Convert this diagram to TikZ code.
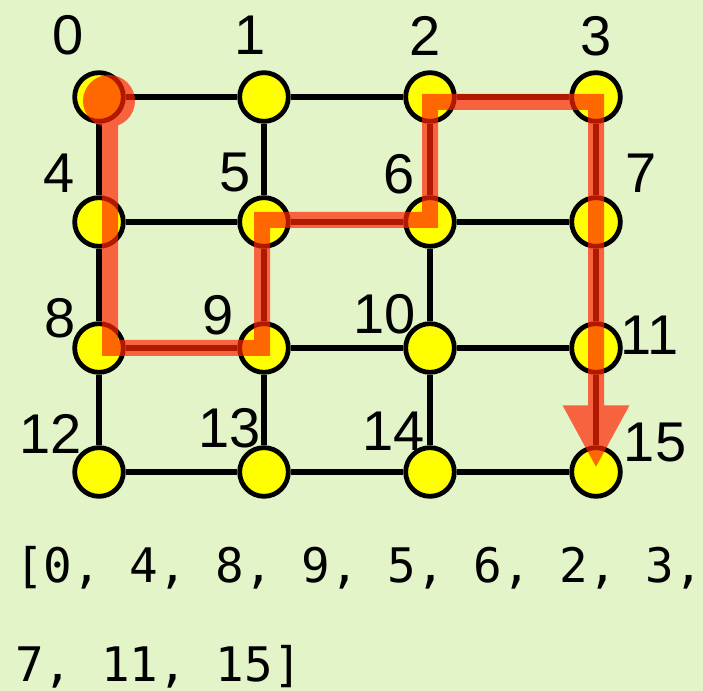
\documentclass[tikz,border=0pt]{standalone}
\usepackage{fontspec}
\setmainfont{Liberation Sans}
\newfontfamily\codefont{DejaVu Sans Mono}
\usetikzlibrary{arrows.meta,calc}
\usepackage{xcolor}
\definecolor{bggreen}{HTML}{E3F4C9}
\definecolor{dotyellow}{HTML}{FFFF00}
\definecolor{routered}{RGB}{255,35,0}
\tikzset{
  vertex/.style={circle, draw=black, line width=3.6pt, fill=dotyellow, minimum size=36.5pt, inner sep=0pt},
  numlabel/.style={font=\fontsize{42}{42}\selectfont, inner sep=0pt},
  edge/.style={line width=5pt, draw=black},
  route/.style={draw=routered, line width=12pt, line join=miter, -{Triangle[length=47pt, width=46.5pt]}},
  listtext/.style={font=\codefont\fontsize{35.7}{36}\selectfont, anchor=base west, inner sep=0pt}
}

\begin{document}
\begin{tikzpicture}[x=0.75pt, y=-0.75pt]
  \path[use as bounding box, fill=bggreen] (0,0) rectangle (703,691);

  % grid of vertices
  \node[vertex] (n0) at (99,97) {};
  \node[vertex] (n1) at (264,97) {};
  \node[vertex] (n2) at (430,97) {};
  \node[vertex] (n3) at (596,97) {};
  \node[vertex] (n4) at (99,222) {};
  \node[vertex] (n5) at (264,222) {};
  \node[vertex] (n6) at (430,222) {};
  \node[vertex] (n7) at (596,222) {};
  \node[vertex] (n8) at (99,348) {};
  \node[vertex] (n9) at (264,348) {};
  \node[vertex] (n10) at (430,348) {};
  \node[vertex] (n11) at (596,348) {};
  \node[vertex] (n12) at (99,472) {};
  \node[vertex] (n13) at (264,472) {};
  \node[vertex] (n14) at (430,472) {};
  \node[vertex] (n15) at (596,472) {};

  % edges
  \draw[edge] (n0) -- (n1) (n1) -- (n2) (n2) -- (n3);
  \draw[edge] (n4) -- (n5) (n5) -- (n6) (n6) -- (n7);
  \draw[edge] (n8) -- (n9) (n9) -- (n10) (n10) -- (n11);
  \draw[edge] (n12) -- (n13) (n13) -- (n14) (n14) -- (n15);
  \draw[edge] (n0) -- (n4) (n4) -- (n8) (n8) -- (n12);
  \draw[edge] (n1) -- (n5) (n5) -- (n9) (n9) -- (n13);
  \draw[edge] (n2) -- (n6) (n6) -- (n10) (n10) -- (n14);
  \draw[edge] (n3) -- (n7) (n7) -- (n11) (n11) -- (n15);

  % vertex numbers
  \node[numlabel] (l0) at ($(n0)+(-31,-62)$) {0};
  \node[numlabel] (l1) at ($(n1)+(-14,-62)$) {1};
  \node[numlabel] (l2) at ($(n2)+(-5,-61)$) {2};
  \node[numlabel] (l3) at ($(n3)+(0,-61)$) {3};
  \node[numlabel] (l4) at ($(n4)+(-40,-49)$) {4};
  \node[numlabel] (l5) at ($(n5)+(-29,-49)$) {5};
  \node[numlabel] (l6) at ($(n6)+(-31,-48)$) {6};
  \node[numlabel] (l7) at ($(n7)+(45,-49)$) {7};
  \node[numlabel] (l8) at ($(n8)+(-39,-30)$) {8};
  \node[numlabel] (l9) at ($(n9)+(-46,-33)$) {9};
  \node[numlabel] (l10) at ($(n10)+(-45,-34)$) {10};
  \node[numlabel] (l11) at ($(n11)+(54,-13)$) {11};
  \node[numlabel] (l12) at ($(n12)+(-48,-38)$) {12};
  \node[numlabel] (l13) at ($(n13)+(-34,-44)$) {13};
  \node[numlabel] (l14) at ($(n14)+(-36,-41)$) {14};
  \node[numlabel] (l15) at ($(n15)+(59,-29)$) {15};

  % found route
  \begin{scope}[transparency group, opacity=0.69]
    \fill[routered] ($(n0)+(10,4)$) circle[radius=26];
    \draw[route] ($(n0)+(11,0)$) -- ($(n8)+(11,0)$) -- ($(n9)+(-2,0)$)
      -- ($(n5)+(-2,-2)$) -- ($(n6)+(0,-2)$) -- ($(n2)+(0,5)$)
      -- ($(n3)+(0,5)$) -- ($(n15)+(0,-4)$);
  \end{scope}

  % result list
  \node[listtext] (line1) at (15,582) {[0, 4, 8, 9, 5, 6, 2, 3,};
  \node[listtext] (line2) at (15,681) {7, 11, 15]};
\end{tikzpicture}
\end{document}
